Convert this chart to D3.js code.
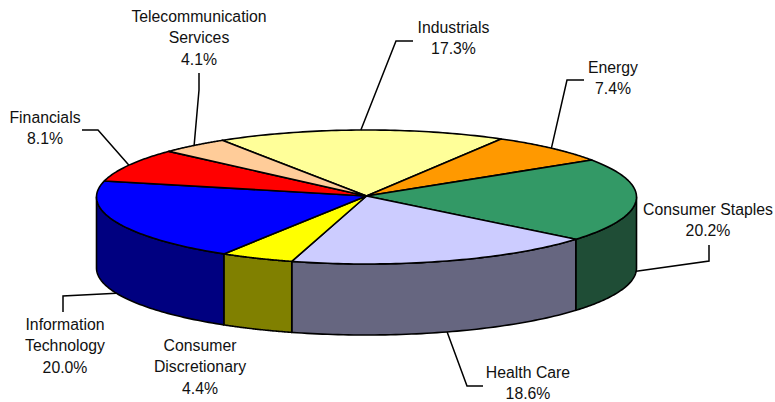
<!DOCTYPE html>
<html>
<head>
<meta charset="utf-8">
<script src="https://cdn.jsdelivr.net/npm/d3@7"></script>
<style>
html,body{margin:0;padding:0;background:#fff}
svg{display:block}
text{font-family:"Liberation Sans",Arial,sans-serif;font-size:15.8px;fill:#111;text-anchor:middle}
</style>
</head>
<body>
<svg id="chart" width="775" height="402"></svg>
<script>
const categories = ["Industrials","Energy","Consumer Staples","Health Care","Consumer Discretionary","Information Technology","Financials","Telecommunication Services"];
const values = [17.3,7.4,20.2,18.6,4.4,20.0,8.1,4.1];
const labelLines = [["Industrials"],["Energy"],["Consumer Staples"],["Health Care"],["Consumer","Discretionary"],["Information","Technology"],["Financials"],["Telecommunication","Services"]];
const topColors = ["#FFFF99","#FF9900","#339966","#CCCCFF","#FFFF00","#0000FF","#FF0000","#FFCC99"];
const sideColors = ["#808050","#804D00","#1F4D36","#666680","#808000","#000080","#800000","#806650"];

// layout of the callouts, kept apart from the data
const labelPos = [[453.5,32.5],[613,72.5],[708,214.5],[528,377.5],[200,350.5],[65,329.5],[45,122.5],[199,21.5]];
const leaderBends = [[[396,41],[413,41]],[[567,80],[584,80]],[[709,261],[709,245]],[[467,386],[483,386]],null,[[63,296],[63,312]],[[98,130],[82,130]],[[199,90],[199,73]]];

const lineGap = 21.6, depth = 71;
const x = d3.scaleLinear().domain([-1,1]).range([96.5,636.5]);
const y = d3.scaleLinear().domain([-1,1]).range([130,264]);
const rad = d => d*Math.PI/180;
const start = rad(-32.3);
const arcs = d3.pie().sort(null).startAngle(start).endAngle(start+2*Math.PI)(values);

const px = a => x(Math.sin(a));
const py = a => y(-Math.cos(a));
const rim = (a0,a1,dy=0) => d3.range(0,61).map(i=>{const a=a0+(a1-a0)*i/60;return [px(a),py(a)+dy];});
const line = d3.line();
const svg = d3.select("#chart");

// side wall: visible only for angles in the front half
const front = [Math.PI/2,3*Math.PI/2];
arcs.forEach((d,i)=>{
  [0,2*Math.PI].forEach(shift=>{
    const a0=Math.max(d.startAngle+shift,front[0]), a1=Math.min(d.endAngle+shift,front[1]);
    if(a1<=a0) return;
    svg.append("path").attr("d",line(rim(a0,a1).concat(rim(a1,a0,depth)))+"Z")
      .attr("fill",sideColors[i]).attr("stroke","#000").attr("stroke-width",1.6).attr("stroke-linejoin","round");
  });
});

// top faces
arcs.forEach((d,i)=>{
  const centre=[x(0),y(0)-1];
  svg.append("path").attr("d",line([centre].concat(rim(d.startAngle,d.endAngle)))+"Z")
    .attr("fill",topColors[i]).attr("stroke","#000").attr("stroke-width",1.6).attr("stroke-linejoin","round");
});

// leader lines start on the rim at the slice's mid angle
arcs.forEach((d,i)=>{
  if(!leaderBends[i]) return;
  const a=(d.startAngle+d.endAngle)/2;
  const isFront=Math.cos(a)<0.1;
  const p0=[px(a),py(a)+(isFront?depth:0)];
  svg.append("path").attr("d",line([p0].concat(leaderBends[i])))
    .attr("fill","none").attr("stroke","#000").attr("stroke-width",1.5);
});

// labels
arcs.forEach((d,i)=>{
  const lines=labelLines[i].concat([d3.format(".1f")(values[i])+"%"]);
  const t=svg.append("text");
  lines.forEach((s,k)=>t.append("tspan").attr("x",labelPos[i][0]).attr("y",labelPos[i][1]+k*lineGap).text(s));
});
</script>
</body>
</html>
